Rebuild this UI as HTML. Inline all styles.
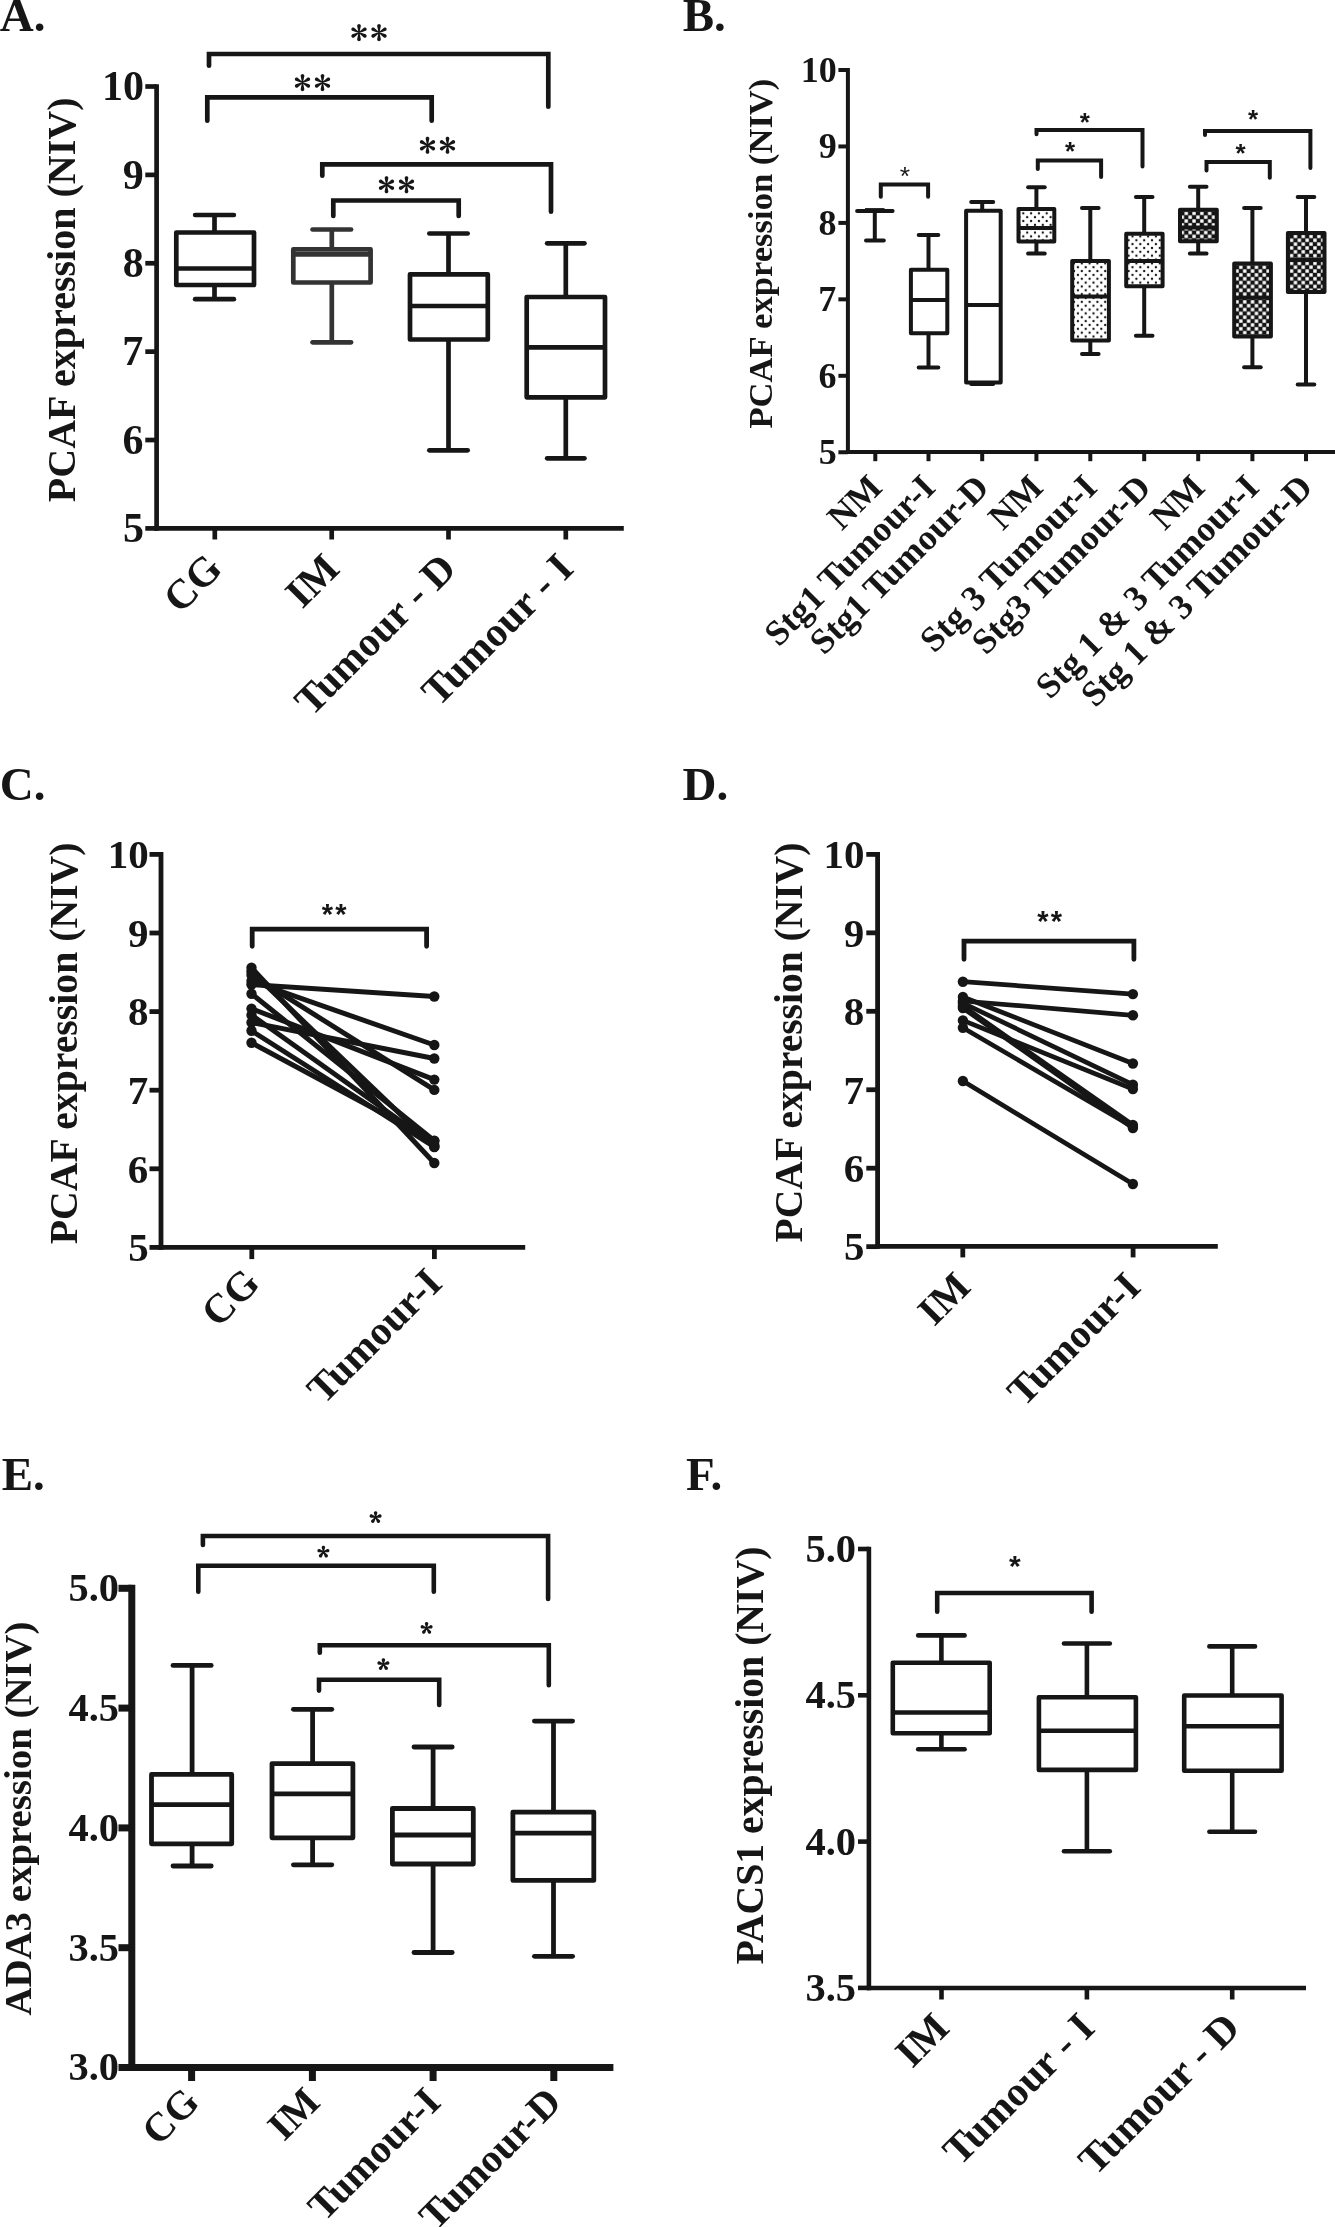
<!DOCTYPE html>
<html><head><meta charset="utf-8"><style>
html,body{margin:0;padding:0;background:#fff;}
body{width:1335px;height:2227px;overflow:hidden;font-family:"Liberation Serif", serif;}
svg{display:block;will-change:transform;}
</style></head><body>
<svg width="1335" height="2227" viewBox="0 0 1335 2227">
<defs><pattern id="dots" patternUnits="userSpaceOnUse" width="7.8" height="7.7" x="1019.4" y="209.45"><circle cx="3.9" cy="3.85" r="1.15" fill="#111"/><circle cx="7.8" cy="7.7" r="1.15" fill="#111"/><circle cx="0" cy="7.7" r="1.15" fill="#111"/><circle cx="7.8" cy="0" r="1.15" fill="#111"/><circle cx="0" cy="0" r="1.15" fill="#111"/></pattern><pattern id="check" patternUnits="userSpaceOnUse" width="7.8" height="7.7" x="1184.3" y="211.4"><rect x="0" y="0" width="7.8" height="7.7" fill="#141414"/><rect x="0.25" y="0.25" width="3.4" height="3.35" fill="#fff"/><rect x="4.15" y="4.1" width="3.4" height="3.35" fill="#fff"/></pattern></defs>
<rect x="0" y="0" width="1335" height="2227" fill="#fff"/>
<text x="-0.17" y="30.54" font-size="47" text-anchor="start" font-family='"Liberation Serif", serif' font-weight="bold" fill="#161616">A.</text>
<line x1="156.6" y1="84.15" x2="156.6" y2="530.75" stroke="#161616" stroke-width="4.7" stroke-linecap="butt"/>
<line x1="145.3" y1="86.5" x2="156.6" y2="86.5" stroke="#161616" stroke-width="4.7" stroke-linecap="butt"/>
<line x1="145.3" y1="174.88" x2="156.6" y2="174.88" stroke="#161616" stroke-width="4.7" stroke-linecap="butt"/>
<line x1="145.3" y1="263.26" x2="156.6" y2="263.26" stroke="#161616" stroke-width="4.7" stroke-linecap="butt"/>
<line x1="145.3" y1="351.64" x2="156.6" y2="351.64" stroke="#161616" stroke-width="4.7" stroke-linecap="butt"/>
<line x1="145.3" y1="440.02" x2="156.6" y2="440.02" stroke="#161616" stroke-width="4.7" stroke-linecap="butt"/>
<line x1="145.3" y1="528.4" x2="156.6" y2="528.4" stroke="#161616" stroke-width="4.7" stroke-linecap="butt"/>
<line x1="154.3" y1="528.4" x2="623.8" y2="528.4" stroke="#161616" stroke-width="4.7" stroke-linecap="butt"/>
<line x1="214.8" y1="528.4" x2="214.8" y2="539.5" stroke="#161616" stroke-width="4.7" stroke-linecap="butt"/>
<line x1="331.7" y1="528.4" x2="331.7" y2="539.5" stroke="#161616" stroke-width="4.7" stroke-linecap="butt"/>
<line x1="448.5" y1="528.4" x2="448.5" y2="539.5" stroke="#161616" stroke-width="4.7" stroke-linecap="butt"/>
<line x1="565.8" y1="528.4" x2="565.8" y2="539.5" stroke="#161616" stroke-width="4.7" stroke-linecap="butt"/>
<text x="143.88" y="100.24" font-size="42" text-anchor="end" font-family='"Liberation Serif", serif' font-weight="bold" fill="#161616">10</text>
<text x="143.77" y="188.57" font-size="42" text-anchor="end" font-family='"Liberation Serif", serif' font-weight="bold" fill="#161616">9</text>
<text x="143.67" y="277" font-size="42" text-anchor="end" font-family='"Liberation Serif", serif' font-weight="bold" fill="#161616">8</text>
<text x="143.35" y="365.38" font-size="42" text-anchor="end" font-family='"Liberation Serif", serif' font-weight="bold" fill="#161616">7</text>
<text x="143.56" y="453.71" font-size="42" text-anchor="end" font-family='"Liberation Serif", serif' font-weight="bold" fill="#161616">6</text>
<text x="143.88" y="541.93" font-size="42" text-anchor="end" font-family='"Liberation Serif", serif' font-weight="bold" fill="#161616">5</text>
<text x="75.27" y="502.2" font-size="40.04" text-anchor="start" font-family='"Liberation Serif", serif' font-weight="bold" fill="#161616" transform="rotate(-90 75.27 502.2)">PCAF expression (NIV)</text>
<text x="224.2" y="570.7" font-size="41.5" text-anchor="end" font-family='"Liberation Serif", serif' font-weight="bold" fill="#161616" transform="rotate(-45 224.2 570.7)">CG</text>
<text x="341.4" y="570.7" font-size="41.5" text-anchor="end" font-family='"Liberation Serif", serif' font-weight="bold" fill="#161616" transform="rotate(-45 341.4 570.7)">IM</text>
<text x="458.2" y="570.7" font-size="41.5" text-anchor="end" font-family='"Liberation Serif", serif' font-weight="bold" fill="#161616" transform="rotate(-45 458.2 570.7)">Tumour - D</text>
<text x="575.5" y="570.7" font-size="41.5" text-anchor="end" font-family='"Liberation Serif", serif' font-weight="bold" fill="#161616" transform="rotate(-45 575.5 570.7)">Tumour - I</text>
<line x1="214.5" y1="215" x2="214.5" y2="232.5" stroke="#161616" stroke-width="4.7" stroke-linecap="butt"/>
<line x1="214.5" y1="285" x2="214.5" y2="299.2" stroke="#161616" stroke-width="4.7" stroke-linecap="butt"/>
<line x1="195.15" y1="215" x2="233.85" y2="215" stroke="#161616" stroke-width="4.7" stroke-linecap="round"/>
<line x1="195.15" y1="299.2" x2="233.85" y2="299.2" stroke="#161616" stroke-width="4.7" stroke-linecap="round"/>
<rect x="176.3" y="232.5" width="77.7" height="52.5" stroke="#161616" stroke-width="4.7" fill="#fff" stroke-linejoin="round"/>
<line x1="176.3" y1="268.5" x2="254" y2="268.5" stroke="#161616" stroke-width="4.7" stroke-linecap="butt"/>
<line x1="331.8" y1="229.5" x2="331.8" y2="249.4" stroke="#333" stroke-width="4.7" stroke-linecap="butt"/>
<line x1="331.8" y1="282.5" x2="331.8" y2="342.3" stroke="#333" stroke-width="4.7" stroke-linecap="butt"/>
<line x1="312.55" y1="229.5" x2="351.05" y2="229.5" stroke="#333" stroke-width="4.7" stroke-linecap="round"/>
<line x1="312.55" y1="342.3" x2="351.05" y2="342.3" stroke="#333" stroke-width="4.7" stroke-linecap="round"/>
<rect x="293.3" y="249.4" width="77.3" height="33.1" stroke="#333" stroke-width="4.7" fill="#fff" stroke-linejoin="round"/>
<line x1="293.3" y1="254.4" x2="370.6" y2="254.4" stroke="#333" stroke-width="4.7" stroke-linecap="butt"/>
<line x1="448.5" y1="233.5" x2="448.5" y2="274.3" stroke="#161616" stroke-width="4.7" stroke-linecap="butt"/>
<line x1="448.5" y1="339.5" x2="448.5" y2="450.3" stroke="#161616" stroke-width="4.7" stroke-linecap="butt"/>
<line x1="429.35" y1="233.5" x2="467.65" y2="233.5" stroke="#161616" stroke-width="4.7" stroke-linecap="round"/>
<line x1="429.35" y1="450.3" x2="467.65" y2="450.3" stroke="#161616" stroke-width="4.7" stroke-linecap="round"/>
<rect x="410" y="274.3" width="77.8" height="65.2" stroke="#161616" stroke-width="4.7" fill="#fff" stroke-linejoin="round"/>
<line x1="410" y1="306" x2="487.8" y2="306" stroke="#161616" stroke-width="4.7" stroke-linecap="butt"/>
<line x1="565.8" y1="243.3" x2="565.8" y2="297" stroke="#161616" stroke-width="4.7" stroke-linecap="butt"/>
<line x1="565.8" y1="397.3" x2="565.8" y2="458.3" stroke="#161616" stroke-width="4.7" stroke-linecap="butt"/>
<line x1="547.15" y1="243.3" x2="584.45" y2="243.3" stroke="#161616" stroke-width="4.7" stroke-linecap="round"/>
<line x1="547.15" y1="458.3" x2="584.45" y2="458.3" stroke="#161616" stroke-width="4.7" stroke-linecap="round"/>
<rect x="526.7" y="297" width="78.3" height="100.3" stroke="#161616" stroke-width="4.7" fill="#fff" stroke-linejoin="round"/>
<line x1="526.7" y1="347.3" x2="605" y2="347.3" stroke="#161616" stroke-width="4.7" stroke-linecap="butt"/>
<path d="M209 65.7 L209 54 L548.3 54 L548.3 106.7" stroke="#161616" stroke-width="4.7" stroke-linecap="round" stroke-linejoin="miter" fill="none"/>
<path d="M207.3 120.7 L207.3 97.3 L431.7 97.3 L431.7 120.7" stroke="#161616" stroke-width="4.7" stroke-linecap="round" stroke-linejoin="miter" fill="none"/>
<path d="M322.3 175.7 L322.3 164.3 L551 164.3 L551 211.7" stroke="#161616" stroke-width="4.7" stroke-linecap="round" stroke-linejoin="miter" fill="none"/>
<path d="M333.3 216 L333.3 200.5 L458.7 200.5 L458.7 216" stroke="#161616" stroke-width="4.7" stroke-linecap="round" stroke-linejoin="miter" fill="none"/>
<path d="M359.5 32.6 L360.85 25.9 L360.76 25.33 L360.5 24.81 L360.09 24.4 L359.57 24.14 L359 24.05 L358.43 24.14 L357.91 24.4 L357.5 24.81 L357.24 25.33 L357.15 25.9 L358.5 32.6ZM359.25 32.17 L354.12 27.65 L353.58 27.44 L353 27.41 L352.45 27.56 L351.96 27.88 L351.6 28.32 L351.39 28.87 L351.36 29.44 L351.51 30 L351.82 30.49 L352.27 30.85 L358.75 33.03ZM358.75 32.17 L352.27 34.35 L351.82 34.71 L351.51 35.2 L351.36 35.76 L351.39 36.33 L351.6 36.88 L351.96 37.32 L352.45 37.64 L353 37.79 L353.58 37.76 L354.12 37.55 L359.25 33.03ZM358.5 32.6 L357.15 39.3 L357.24 39.87 L357.5 40.39 L357.91 40.8 L358.43 41.06 L359 41.15 L359.57 41.06 L360.09 40.8 L360.5 40.39 L360.76 39.87 L360.85 39.3 L359.5 32.6ZM358.75 33.03 L363.88 37.55 L364.42 37.76 L365 37.79 L365.55 37.64 L366.04 37.32 L366.4 36.88 L366.61 36.33 L366.64 35.76 L366.49 35.2 L366.18 34.71 L365.73 34.35 L359.25 32.17ZM359.25 33.03 L365.73 30.85 L366.18 30.49 L366.49 30 L366.64 29.44 L366.61 28.87 L366.4 28.32 L366.04 27.88 L365.55 27.56 L365 27.41 L364.42 27.44 L363.88 27.65 L358.75 32.17Z" fill="#161616"/>
<path d="M379.5 32.6 L380.85 25.9 L380.76 25.33 L380.5 24.81 L380.09 24.4 L379.57 24.14 L379 24.05 L378.43 24.14 L377.91 24.4 L377.5 24.81 L377.24 25.33 L377.15 25.9 L378.5 32.6ZM379.25 32.17 L374.12 27.65 L373.58 27.44 L373 27.41 L372.45 27.56 L371.96 27.88 L371.6 28.32 L371.39 28.87 L371.36 29.44 L371.51 30 L371.82 30.49 L372.27 30.85 L378.75 33.03ZM378.75 32.17 L372.27 34.35 L371.82 34.71 L371.51 35.2 L371.36 35.76 L371.39 36.33 L371.6 36.88 L371.96 37.32 L372.45 37.64 L373 37.79 L373.58 37.76 L374.12 37.55 L379.25 33.03ZM378.5 32.6 L377.15 39.3 L377.24 39.87 L377.5 40.39 L377.91 40.8 L378.43 41.06 L379 41.15 L379.57 41.06 L380.09 40.8 L380.5 40.39 L380.76 39.87 L380.85 39.3 L379.5 32.6ZM378.75 33.03 L383.88 37.55 L384.42 37.76 L385 37.79 L385.55 37.64 L386.04 37.32 L386.4 36.88 L386.61 36.33 L386.64 35.76 L386.49 35.2 L386.18 34.71 L385.73 34.35 L379.25 32.17ZM379.25 33.03 L385.73 30.85 L386.18 30.49 L386.49 30 L386.64 29.44 L386.61 28.87 L386.4 28.32 L386.04 27.88 L385.55 27.56 L385 27.41 L384.42 27.44 L383.88 27.65 L378.75 32.17Z" fill="#161616"/>
<path d="M303 82.6 L304.35 75.9 L304.26 75.33 L304 74.81 L303.59 74.4 L303.07 74.14 L302.5 74.05 L301.93 74.14 L301.41 74.4 L301 74.81 L300.74 75.33 L300.65 75.9 L302 82.6ZM302.75 82.17 L297.62 77.65 L297.08 77.44 L296.5 77.41 L295.95 77.56 L295.46 77.88 L295.1 78.33 L294.89 78.87 L294.86 79.44 L295.01 80 L295.32 80.49 L295.77 80.85 L302.25 83.03ZM302.25 82.17 L295.77 84.35 L295.32 84.71 L295.01 85.2 L294.86 85.76 L294.89 86.33 L295.1 86.87 L295.46 87.32 L295.95 87.64 L296.5 87.79 L297.08 87.76 L297.62 87.55 L302.75 83.03ZM302 82.6 L300.65 89.3 L300.74 89.87 L301 90.39 L301.41 90.8 L301.93 91.06 L302.5 91.15 L303.07 91.06 L303.59 90.8 L304 90.39 L304.26 89.87 L304.35 89.3 L303 82.6ZM302.25 83.03 L307.38 87.55 L307.92 87.76 L308.5 87.79 L309.05 87.64 L309.54 87.32 L309.9 86.88 L310.11 86.33 L310.14 85.76 L309.99 85.2 L309.68 84.71 L309.23 84.35 L302.75 82.17ZM302.75 83.03 L309.23 80.85 L309.68 80.49 L309.99 80 L310.14 79.44 L310.11 78.87 L309.9 78.33 L309.54 77.88 L309.05 77.56 L308.5 77.41 L307.92 77.44 L307.38 77.65 L302.25 82.17Z" fill="#161616"/>
<path d="M323 82.6 L324.35 75.9 L324.26 75.33 L324 74.81 L323.59 74.4 L323.07 74.14 L322.5 74.05 L321.93 74.14 L321.41 74.4 L321 74.81 L320.74 75.33 L320.65 75.9 L322 82.6ZM322.75 82.17 L317.62 77.65 L317.08 77.44 L316.5 77.41 L315.95 77.56 L315.46 77.88 L315.1 78.33 L314.89 78.87 L314.86 79.44 L315.01 80 L315.32 80.49 L315.77 80.85 L322.25 83.03ZM322.25 82.17 L315.77 84.35 L315.32 84.71 L315.01 85.2 L314.86 85.76 L314.89 86.33 L315.1 86.87 L315.46 87.32 L315.95 87.64 L316.5 87.79 L317.08 87.76 L317.62 87.55 L322.75 83.03ZM322 82.6 L320.65 89.3 L320.74 89.87 L321 90.39 L321.41 90.8 L321.93 91.06 L322.5 91.15 L323.07 91.06 L323.59 90.8 L324 90.39 L324.26 89.87 L324.35 89.3 L323 82.6ZM322.25 83.03 L327.38 87.55 L327.92 87.76 L328.5 87.79 L329.05 87.64 L329.54 87.32 L329.9 86.88 L330.11 86.33 L330.14 85.76 L329.99 85.2 L329.68 84.71 L329.23 84.35 L322.75 82.17ZM322.75 83.03 L329.23 80.85 L329.68 80.49 L329.99 80 L330.14 79.44 L330.11 78.87 L329.9 78.33 L329.54 77.88 L329.05 77.56 L328.5 77.41 L327.92 77.44 L327.38 77.65 L322.25 82.17Z" fill="#161616"/>
<path d="M428 145.3 L429.35 138.6 L429.26 138.03 L429 137.51 L428.59 137.1 L428.07 136.84 L427.5 136.75 L426.93 136.84 L426.41 137.1 L426 137.51 L425.74 138.03 L425.65 138.6 L427 145.3ZM427.75 144.87 L422.62 140.35 L422.08 140.14 L421.5 140.11 L420.95 140.26 L420.46 140.58 L420.1 141.03 L419.89 141.57 L419.86 142.14 L420.01 142.7 L420.32 143.19 L420.77 143.55 L427.25 145.73ZM427.25 144.87 L420.77 147.05 L420.32 147.41 L420.01 147.9 L419.86 148.46 L419.89 149.03 L420.1 149.58 L420.46 150.02 L420.95 150.34 L421.5 150.49 L422.08 150.46 L422.62 150.25 L427.75 145.73ZM427 145.3 L425.65 152 L425.74 152.57 L426 153.09 L426.41 153.5 L426.93 153.76 L427.5 153.85 L428.07 153.76 L428.59 153.5 L429 153.09 L429.26 152.57 L429.35 152 L428 145.3ZM427.25 145.73 L432.38 150.25 L432.92 150.46 L433.5 150.49 L434.05 150.34 L434.54 150.02 L434.9 149.58 L435.11 149.03 L435.14 148.46 L434.99 147.9 L434.68 147.41 L434.23 147.05 L427.75 144.87ZM427.75 145.73 L434.23 143.55 L434.68 143.19 L434.99 142.7 L435.14 142.14 L435.11 141.57 L434.9 141.03 L434.54 140.58 L434.05 140.26 L433.5 140.11 L432.92 140.14 L432.38 140.35 L427.25 144.87Z" fill="#161616"/>
<path d="M448 145.3 L449.35 138.6 L449.26 138.03 L449 137.51 L448.59 137.1 L448.07 136.84 L447.5 136.75 L446.93 136.84 L446.41 137.1 L446 137.51 L445.74 138.03 L445.65 138.6 L447 145.3ZM447.75 144.87 L442.62 140.35 L442.08 140.14 L441.5 140.11 L440.95 140.26 L440.46 140.58 L440.1 141.03 L439.89 141.57 L439.86 142.14 L440.01 142.7 L440.32 143.19 L440.77 143.55 L447.25 145.73ZM447.25 144.87 L440.77 147.05 L440.32 147.41 L440.01 147.9 L439.86 148.46 L439.89 149.03 L440.1 149.58 L440.46 150.02 L440.95 150.34 L441.5 150.49 L442.08 150.46 L442.62 150.25 L447.75 145.73ZM447 145.3 L445.65 152 L445.74 152.57 L446 153.09 L446.41 153.5 L446.93 153.76 L447.5 153.85 L448.07 153.76 L448.59 153.5 L449 153.09 L449.26 152.57 L449.35 152 L448 145.3ZM447.25 145.73 L452.38 150.25 L452.92 150.46 L453.5 150.49 L454.05 150.34 L454.54 150.02 L454.9 149.58 L455.11 149.03 L455.14 148.46 L454.99 147.9 L454.68 147.41 L454.23 147.05 L447.75 144.87ZM447.75 145.73 L454.23 143.55 L454.68 143.19 L454.99 142.7 L455.14 142.14 L455.11 141.57 L454.9 141.03 L454.54 140.58 L454.05 140.26 L453.5 140.11 L452.92 140.14 L452.38 140.35 L447.25 144.87Z" fill="#161616"/>
<path d="M387 184.7 L388.35 178 L388.26 177.43 L388 176.91 L387.59 176.5 L387.07 176.24 L386.5 176.15 L385.93 176.24 L385.41 176.5 L385 176.91 L384.74 177.43 L384.65 178 L386 184.7ZM386.75 184.27 L381.62 179.75 L381.08 179.54 L380.5 179.51 L379.95 179.66 L379.46 179.98 L379.1 180.42 L378.89 180.97 L378.86 181.54 L379.01 182.1 L379.32 182.59 L379.77 182.95 L386.25 185.13ZM386.25 184.27 L379.77 186.45 L379.32 186.81 L379.01 187.3 L378.86 187.86 L378.89 188.43 L379.1 188.97 L379.46 189.42 L379.95 189.74 L380.5 189.89 L381.08 189.86 L381.62 189.65 L386.75 185.13ZM386 184.7 L384.65 191.4 L384.74 191.97 L385 192.49 L385.41 192.9 L385.93 193.16 L386.5 193.25 L387.07 193.16 L387.59 192.9 L388 192.49 L388.26 191.97 L388.35 191.4 L387 184.7ZM386.25 185.13 L391.38 189.65 L391.92 189.86 L392.5 189.89 L393.05 189.74 L393.54 189.42 L393.9 188.97 L394.11 188.43 L394.14 187.86 L393.99 187.3 L393.68 186.81 L393.23 186.45 L386.75 184.27ZM386.75 185.13 L393.23 182.95 L393.68 182.59 L393.99 182.1 L394.14 181.54 L394.11 180.97 L393.9 180.42 L393.54 179.98 L393.05 179.66 L392.5 179.51 L391.92 179.54 L391.38 179.75 L386.25 184.27Z" fill="#161616"/>
<path d="M407 184.7 L408.35 178 L408.26 177.43 L408 176.91 L407.59 176.5 L407.07 176.24 L406.5 176.15 L405.93 176.24 L405.41 176.5 L405 176.91 L404.74 177.43 L404.65 178 L406 184.7ZM406.75 184.27 L401.62 179.75 L401.08 179.54 L400.5 179.51 L399.95 179.66 L399.46 179.98 L399.1 180.42 L398.89 180.97 L398.86 181.54 L399.01 182.1 L399.32 182.59 L399.77 182.95 L406.25 185.13ZM406.25 184.27 L399.77 186.45 L399.32 186.81 L399.01 187.3 L398.86 187.86 L398.89 188.43 L399.1 188.97 L399.46 189.42 L399.95 189.74 L400.5 189.89 L401.08 189.86 L401.62 189.65 L406.75 185.13ZM406 184.7 L404.65 191.4 L404.74 191.97 L405 192.49 L405.41 192.9 L405.93 193.16 L406.5 193.25 L407.07 193.16 L407.59 192.9 L408 192.49 L408.26 191.97 L408.35 191.4 L407 184.7ZM406.25 185.13 L411.38 189.65 L411.92 189.86 L412.5 189.89 L413.05 189.74 L413.54 189.42 L413.9 188.97 L414.11 188.43 L414.14 187.86 L413.99 187.3 L413.68 186.81 L413.23 186.45 L406.75 184.27ZM406.75 185.13 L413.23 182.95 L413.68 182.59 L413.99 182.1 L414.14 181.54 L414.11 180.97 L413.9 180.42 L413.54 179.98 L413.05 179.66 L412.5 179.51 L411.92 179.54 L411.38 179.75 L406.25 184.27Z" fill="#161616"/>
<text x="682.68" y="30.54" font-size="47" text-anchor="start" font-family='"Liberation Serif", serif' font-weight="bold" fill="#161616">B.</text>
<line x1="847.9" y1="68" x2="847.9" y2="454" stroke="#161616" stroke-width="4" stroke-linecap="butt"/>
<line x1="838.4" y1="70" x2="847.9" y2="70" stroke="#161616" stroke-width="4" stroke-linecap="butt"/>
<line x1="838.4" y1="146.45" x2="847.9" y2="146.45" stroke="#161616" stroke-width="4" stroke-linecap="butt"/>
<line x1="838.4" y1="222.9" x2="847.9" y2="222.9" stroke="#161616" stroke-width="4" stroke-linecap="butt"/>
<line x1="838.4" y1="299.35" x2="847.9" y2="299.35" stroke="#161616" stroke-width="4" stroke-linecap="butt"/>
<line x1="838.4" y1="375.8" x2="847.9" y2="375.8" stroke="#161616" stroke-width="4" stroke-linecap="butt"/>
<line x1="838.4" y1="452.25" x2="847.9" y2="452.25" stroke="#161616" stroke-width="4" stroke-linecap="butt"/>
<line x1="846" y1="452" x2="1335" y2="452" stroke="#161616" stroke-width="4" stroke-linecap="butt"/>
<line x1="875.3" y1="452" x2="875.3" y2="461.2" stroke="#161616" stroke-width="4" stroke-linecap="butt"/>
<line x1="928.5" y1="452" x2="928.5" y2="461.2" stroke="#161616" stroke-width="4" stroke-linecap="butt"/>
<line x1="982.2" y1="452" x2="982.2" y2="461.2" stroke="#161616" stroke-width="4" stroke-linecap="butt"/>
<line x1="1036.4" y1="452" x2="1036.4" y2="461.2" stroke="#161616" stroke-width="4" stroke-linecap="butt"/>
<line x1="1090.3" y1="452" x2="1090.3" y2="461.2" stroke="#161616" stroke-width="4" stroke-linecap="butt"/>
<line x1="1144.2" y1="452" x2="1144.2" y2="461.2" stroke="#161616" stroke-width="4" stroke-linecap="butt"/>
<line x1="1198.2" y1="452" x2="1198.2" y2="461.2" stroke="#161616" stroke-width="4" stroke-linecap="butt"/>
<line x1="1252.4" y1="452" x2="1252.4" y2="461.2" stroke="#161616" stroke-width="4" stroke-linecap="butt"/>
<line x1="1306" y1="452" x2="1306" y2="461.2" stroke="#161616" stroke-width="4" stroke-linecap="butt"/>
<text x="836.74" y="81.78" font-size="36" text-anchor="end" font-family='"Liberation Serif", serif' font-weight="bold" fill="#161616">10</text>
<text x="836.65" y="158.19" font-size="36" text-anchor="end" font-family='"Liberation Serif", serif' font-weight="bold" fill="#161616">9</text>
<text x="836.56" y="234.68" font-size="36" text-anchor="end" font-family='"Liberation Serif", serif' font-weight="bold" fill="#161616">8</text>
<text x="836.29" y="311.13" font-size="36" text-anchor="end" font-family='"Liberation Serif", serif' font-weight="bold" fill="#161616">7</text>
<text x="836.47" y="387.54" font-size="36" text-anchor="end" font-family='"Liberation Serif", serif' font-weight="bold" fill="#161616">6</text>
<text x="836.74" y="463.85" font-size="36" text-anchor="end" font-family='"Liberation Serif", serif' font-weight="bold" fill="#161616">5</text>
<text x="772.21" y="428.53" font-size="34.62" text-anchor="start" font-family='"Liberation Serif", serif' font-weight="bold" fill="#161616" transform="rotate(-90 772.21 428.53)">PCAF expression (NIV)</text>
<text x="883.8" y="489.4" font-size="35.7" text-anchor="end" font-family='"Liberation Serif", serif' font-weight="bold" fill="#161616" transform="rotate(-45 883.8 489.4)">NM</text>
<text x="937" y="489.4" font-size="35.7" text-anchor="end" font-family='"Liberation Serif", serif' font-weight="bold" fill="#161616" transform="rotate(-45 937 489.4)">Stg1 Tumour-I</text>
<text x="990.7" y="489.4" font-size="35.7" text-anchor="end" font-family='"Liberation Serif", serif' font-weight="bold" fill="#161616" transform="rotate(-45 990.7 489.4)">Stg1 Tumour-D</text>
<text x="1044.9" y="489.4" font-size="35.7" text-anchor="end" font-family='"Liberation Serif", serif' font-weight="bold" fill="#161616" transform="rotate(-45 1044.9 489.4)">NM</text>
<text x="1098.8" y="489.4" font-size="35.7" text-anchor="end" font-family='"Liberation Serif", serif' font-weight="bold" fill="#161616" transform="rotate(-45 1098.8 489.4)">Stg 3 Tumour-I</text>
<text x="1152.7" y="489.4" font-size="35.7" text-anchor="end" font-family='"Liberation Serif", serif' font-weight="bold" fill="#161616" transform="rotate(-45 1152.7 489.4)">Stg3 Tumour-D</text>
<text x="1206.7" y="489.4" font-size="35.7" text-anchor="end" font-family='"Liberation Serif", serif' font-weight="bold" fill="#161616" transform="rotate(-45 1206.7 489.4)">NM</text>
<text x="1260.9" y="489.4" font-size="35.7" text-anchor="end" font-family='"Liberation Serif", serif' font-weight="bold" fill="#161616" transform="rotate(-45 1260.9 489.4)">Stg 1 &amp; 3 Tumour-I</text>
<text x="1314.5" y="489.4" font-size="35.7" text-anchor="end" font-family='"Liberation Serif", serif' font-weight="bold" fill="#161616" transform="rotate(-45 1314.5 489.4)">Stg 1 &amp; 3 Tumour-D</text>
<line x1="874.8" y1="211" x2="874.8" y2="240.6" stroke="#161616" stroke-width="4" stroke-linecap="butt"/>
<line x1="857.1" y1="211" x2="892.6" y2="211" stroke="#161616" stroke-width="4" stroke-linecap="round"/>
<line x1="865" y1="209.9" x2="884.5" y2="209.9" stroke="#161616" stroke-width="3.6" stroke-linecap="butt"/>
<line x1="866" y1="240.6" x2="883.8" y2="240.6" stroke="#161616" stroke-width="4" stroke-linecap="round"/>
<line x1="928.5" y1="235.1" x2="928.5" y2="269.8" stroke="#161616" stroke-width="4" stroke-linecap="butt"/>
<line x1="928.5" y1="333.2" x2="928.5" y2="367.6" stroke="#161616" stroke-width="4" stroke-linecap="butt"/>
<line x1="918.7" y1="235.1" x2="938.3" y2="235.1" stroke="#161616" stroke-width="4" stroke-linecap="round"/>
<line x1="918.7" y1="367.6" x2="938.3" y2="367.6" stroke="#161616" stroke-width="4" stroke-linecap="round"/>
<rect x="910.9" y="269.8" width="36.4" height="63.4" stroke="#161616" stroke-width="4" fill="#fff" stroke-linejoin="round"/>
<line x1="910.9" y1="299.9" x2="947.3" y2="299.9" stroke="#161616" stroke-width="4" stroke-linecap="butt"/>
<line x1="982.2" y1="202" x2="982.2" y2="210.8" stroke="#161616" stroke-width="4" stroke-linecap="butt"/>
<line x1="982.2" y1="382.5" x2="982.2" y2="384" stroke="#161616" stroke-width="4" stroke-linecap="butt"/>
<line x1="971.2" y1="202" x2="993.2" y2="202" stroke="#161616" stroke-width="4" stroke-linecap="round"/>
<line x1="971.2" y1="384" x2="993.2" y2="384" stroke="#161616" stroke-width="4" stroke-linecap="round"/>
<rect x="966.1" y="210.8" width="34.6" height="171.7" stroke="#161616" stroke-width="4" fill="#fff" stroke-linejoin="round"/>
<line x1="966.1" y1="304.9" x2="1000.7" y2="304.9" stroke="#161616" stroke-width="4" stroke-linecap="butt"/>
<line x1="1036.4" y1="187.2" x2="1036.4" y2="209" stroke="#161616" stroke-width="4" stroke-linecap="butt"/>
<line x1="1036.4" y1="241.5" x2="1036.4" y2="253.6" stroke="#161616" stroke-width="4" stroke-linecap="butt"/>
<line x1="1028.1" y1="187.2" x2="1044.7" y2="187.2" stroke="#161616" stroke-width="4" stroke-linecap="round"/>
<line x1="1028.1" y1="253.6" x2="1044.7" y2="253.6" stroke="#161616" stroke-width="4" stroke-linecap="round"/>
<rect x="1018.5" y="209" width="35.8" height="32.5" stroke="#161616" stroke-width="4" fill="url(#dots)" stroke-linejoin="round"/>
<line x1="1018.5" y1="228" x2="1054.3" y2="228" stroke="#161616" stroke-width="4" stroke-linecap="butt"/>
<line x1="1090.3" y1="207.9" x2="1090.3" y2="260.9" stroke="#161616" stroke-width="4" stroke-linecap="butt"/>
<line x1="1090.3" y1="340.5" x2="1090.3" y2="353.9" stroke="#161616" stroke-width="4" stroke-linecap="butt"/>
<line x1="1082" y1="207.9" x2="1098.6" y2="207.9" stroke="#161616" stroke-width="4" stroke-linecap="round"/>
<line x1="1082" y1="353.9" x2="1098.6" y2="353.9" stroke="#161616" stroke-width="4" stroke-linecap="round"/>
<rect x="1072.2" y="260.9" width="36.7" height="79.6" stroke="#161616" stroke-width="4" fill="url(#dots)" stroke-linejoin="round"/>
<line x1="1072.2" y1="296.5" x2="1108.9" y2="296.5" stroke="#161616" stroke-width="4" stroke-linecap="butt"/>
<line x1="1144.2" y1="197" x2="1144.2" y2="233.7" stroke="#161616" stroke-width="4" stroke-linecap="butt"/>
<line x1="1144.2" y1="286.2" x2="1144.2" y2="335.8" stroke="#161616" stroke-width="4" stroke-linecap="butt"/>
<line x1="1135.9" y1="197" x2="1152.5" y2="197" stroke="#161616" stroke-width="4" stroke-linecap="round"/>
<line x1="1135.9" y1="335.8" x2="1152.5" y2="335.8" stroke="#161616" stroke-width="4" stroke-linecap="round"/>
<rect x="1126.2" y="233.7" width="36.4" height="52.5" stroke="#161616" stroke-width="4" fill="url(#dots)" stroke-linejoin="round"/>
<line x1="1126.2" y1="260.9" x2="1162.6" y2="260.9" stroke="#161616" stroke-width="4" stroke-linecap="butt"/>
<line x1="1198.2" y1="186.7" x2="1198.2" y2="209.7" stroke="#161616" stroke-width="4" stroke-linecap="butt"/>
<line x1="1198.2" y1="241.3" x2="1198.2" y2="253.6" stroke="#161616" stroke-width="4" stroke-linecap="butt"/>
<line x1="1189.9" y1="186.7" x2="1206.5" y2="186.7" stroke="#161616" stroke-width="4" stroke-linecap="round"/>
<line x1="1189.9" y1="253.6" x2="1206.5" y2="253.6" stroke="#161616" stroke-width="4" stroke-linecap="round"/>
<rect x="1180" y="209.7" width="36.8" height="31.6" stroke="#161616" stroke-width="4" fill="url(#check)" stroke-linejoin="round"/>
<line x1="1180" y1="227.4" x2="1216.8" y2="227.4" stroke="#161616" stroke-width="4" stroke-linecap="butt"/>
<line x1="1252.4" y1="207.9" x2="1252.4" y2="263.5" stroke="#161616" stroke-width="4" stroke-linecap="butt"/>
<line x1="1252.4" y1="336.6" x2="1252.4" y2="367.3" stroke="#161616" stroke-width="4" stroke-linecap="butt"/>
<line x1="1244.1" y1="207.9" x2="1260.7" y2="207.9" stroke="#161616" stroke-width="4" stroke-linecap="round"/>
<line x1="1244.1" y1="367.3" x2="1260.7" y2="367.3" stroke="#161616" stroke-width="4" stroke-linecap="round"/>
<rect x="1234.2" y="263.5" width="36.7" height="73.1" stroke="#161616" stroke-width="4" fill="url(#check)" stroke-linejoin="round"/>
<line x1="1234.2" y1="297.8" x2="1270.9" y2="297.8" stroke="#161616" stroke-width="4" stroke-linecap="butt"/>
<line x1="1306" y1="197" x2="1306" y2="233" stroke="#161616" stroke-width="4" stroke-linecap="butt"/>
<line x1="1306" y1="291.9" x2="1306" y2="384.4" stroke="#161616" stroke-width="4" stroke-linecap="butt"/>
<line x1="1297.7" y1="197" x2="1314.3" y2="197" stroke="#161616" stroke-width="4" stroke-linecap="round"/>
<line x1="1297.7" y1="384.4" x2="1314.3" y2="384.4" stroke="#161616" stroke-width="4" stroke-linecap="round"/>
<rect x="1287.9" y="233" width="36.6" height="58.9" stroke="#161616" stroke-width="4" fill="url(#check)" stroke-linejoin="round"/>
<line x1="1287.9" y1="260.1" x2="1324.5" y2="260.1" stroke="#161616" stroke-width="4" stroke-linecap="butt"/>
<path d="M880.8 196.8 L880.8 184.5 L928.1 184.5 L928.1 196.8" stroke="#161616" stroke-width="4" stroke-linecap="round" stroke-linejoin="miter" fill="none"/>
<path d="M1036.5 134.3 L1036.5 129.9 L1142.5 129.9 L1142.5 166.6" stroke="#161616" stroke-width="4" stroke-linecap="round" stroke-linejoin="miter" fill="none"/>
<path d="M1037.8 169.1 L1037.8 160.6 L1101.1 160.6 L1101.1 176.9" stroke="#161616" stroke-width="4" stroke-linecap="round" stroke-linejoin="miter" fill="none"/>
<path d="M1205 135 L1205 131 L1310.4 131 L1310.4 167.9" stroke="#161616" stroke-width="4" stroke-linecap="round" stroke-linejoin="miter" fill="none"/>
<path d="M1206.5 170.4 L1206.5 161.9 L1269.8 161.9 L1269.8 177.7" stroke="#161616" stroke-width="4" stroke-linecap="round" stroke-linejoin="miter" fill="none"/>
<text x="899.66" y="185.22" font-size="26.5" font-family='"Liberation Sans", sans-serif' font-weight="normal" fill="#161616">*</text>
<text x="1079.66" y="130.88" font-size="26" font-family='"Liberation Sans", sans-serif' font-weight="bold" fill="#161616">*</text>
<text x="1065.06" y="159.78" font-size="26" font-family='"Liberation Sans", sans-serif' font-weight="bold" fill="#161616">*</text>
<text x="1247.96" y="127.78" font-size="26" font-family='"Liberation Sans", sans-serif' font-weight="bold" fill="#161616">*</text>
<text x="1235.56" y="161.88" font-size="26" font-family='"Liberation Sans", sans-serif' font-weight="bold" fill="#161616">*</text>
<text x="-0.23" y="799.94" font-size="47" text-anchor="start" font-family='"Liberation Serif", serif' font-weight="bold" fill="#161616">C.</text>
<line x1="161" y1="852" x2="161" y2="1249.7" stroke="#161616" stroke-width="4.8" stroke-linecap="butt"/>
<line x1="149.5" y1="854.4" x2="161" y2="854.4" stroke="#161616" stroke-width="4.8" stroke-linecap="butt"/>
<line x1="149.5" y1="933" x2="161" y2="933" stroke="#161616" stroke-width="4.8" stroke-linecap="butt"/>
<line x1="149.5" y1="1011.6" x2="161" y2="1011.6" stroke="#161616" stroke-width="4.8" stroke-linecap="butt"/>
<line x1="149.5" y1="1090.2" x2="161" y2="1090.2" stroke="#161616" stroke-width="4.8" stroke-linecap="butt"/>
<line x1="149.5" y1="1168.8" x2="161" y2="1168.8" stroke="#161616" stroke-width="4.8" stroke-linecap="butt"/>
<line x1="149.5" y1="1247.4" x2="161" y2="1247.4" stroke="#161616" stroke-width="4.8" stroke-linecap="butt"/>
<line x1="158.6" y1="1247.3" x2="525.2" y2="1247.3" stroke="#161616" stroke-width="4.8" stroke-linecap="butt"/>
<line x1="251.8" y1="1247.3" x2="251.8" y2="1259.1" stroke="#161616" stroke-width="4.8" stroke-linecap="butt"/>
<line x1="434.4" y1="1247.3" x2="434.4" y2="1259.1" stroke="#161616" stroke-width="4.8" stroke-linecap="butt"/>
<text x="76.76" y="1244.19" font-size="39.74" text-anchor="start" font-family='"Liberation Serif", serif' font-weight="bold" fill="#161616" transform="rotate(-90 76.76 1244.19)">PCAF expression (NIV)</text>
<path d="M252.2 946.3 L252.2 929.2 L426.6 929.2 L426.6 946.3" stroke="#161616" stroke-width="4.8" stroke-linecap="round" stroke-linejoin="miter" fill="none"/>
<text x="321.87" y="923.79" font-size="29" font-family='"Liberation Sans", sans-serif' font-weight="bold" fill="#161616">*</text>
<text x="335.17" y="923.79" font-size="29" font-family='"Liberation Sans", sans-serif' font-weight="bold" fill="#161616">*</text>
<text x="148.64" y="868.22" font-size="41" text-anchor="end" font-family='"Liberation Serif", serif' font-weight="bold" fill="#161616">10</text>
<text x="148.54" y="946.77" font-size="41" text-anchor="end" font-family='"Liberation Serif", serif' font-weight="bold" fill="#161616">9</text>
<text x="148.44" y="1025.42" font-size="41" text-anchor="end" font-family='"Liberation Serif", serif' font-weight="bold" fill="#161616">8</text>
<text x="148.13" y="1104.02" font-size="41" text-anchor="end" font-family='"Liberation Serif", serif' font-weight="bold" fill="#161616">7</text>
<text x="148.33" y="1182.57" font-size="41" text-anchor="end" font-family='"Liberation Serif", serif' font-weight="bold" fill="#161616">6</text>
<text x="148.64" y="1261.01" font-size="41" text-anchor="end" font-family='"Liberation Serif", serif' font-weight="bold" fill="#161616">5</text>
<text x="261.5" y="1285.2" font-size="41" text-anchor="end" font-family='"Liberation Serif", serif' font-weight="bold" fill="#161616" transform="rotate(-45 261.5 1285.2)">CG</text>
<text x="444" y="1285.2" font-size="41" text-anchor="end" font-family='"Liberation Serif", serif' font-weight="bold" fill="#161616" transform="rotate(-45 444 1285.2)">Tumour-I</text>
<line x1="251.5" y1="984.5" x2="434.3" y2="996.5" stroke="#161616" stroke-width="5" stroke-linecap="butt"/>
<line x1="251.5" y1="981" x2="434.3" y2="1045" stroke="#161616" stroke-width="5" stroke-linecap="butt"/>
<line x1="251.5" y1="975" x2="434.3" y2="1089.9" stroke="#161616" stroke-width="5" stroke-linecap="butt"/>
<line x1="251.5" y1="1022.5" x2="434.3" y2="1058.5" stroke="#161616" stroke-width="5" stroke-linecap="butt"/>
<line x1="251.5" y1="1008.6" x2="434.3" y2="1079.6" stroke="#161616" stroke-width="5" stroke-linecap="butt"/>
<line x1="251.5" y1="967.8" x2="434.3" y2="1163" stroke="#161616" stroke-width="5" stroke-linecap="butt"/>
<line x1="251.5" y1="971.4" x2="434.3" y2="1146.9" stroke="#161616" stroke-width="5" stroke-linecap="butt"/>
<line x1="251.5" y1="993.7" x2="434.3" y2="1140.6" stroke="#161616" stroke-width="5" stroke-linecap="butt"/>
<line x1="251.5" y1="1015" x2="434.3" y2="1145" stroke="#161616" stroke-width="5" stroke-linecap="butt"/>
<line x1="251.5" y1="1030.8" x2="434.3" y2="1147" stroke="#161616" stroke-width="5" stroke-linecap="butt"/>
<line x1="251.5" y1="1042.8" x2="434.3" y2="1141" stroke="#161616" stroke-width="5" stroke-linecap="butt"/>
<circle cx="251.5" cy="984.5" r="5.2" fill="#161616"/>
<circle cx="434.3" cy="996.5" r="5.2" fill="#161616"/>
<circle cx="251.5" cy="981" r="5.2" fill="#161616"/>
<circle cx="434.3" cy="1045" r="5.2" fill="#161616"/>
<circle cx="251.5" cy="975" r="5.2" fill="#161616"/>
<circle cx="434.3" cy="1089.9" r="5.2" fill="#161616"/>
<circle cx="251.5" cy="1022.5" r="5.2" fill="#161616"/>
<circle cx="434.3" cy="1058.5" r="5.2" fill="#161616"/>
<circle cx="251.5" cy="1008.6" r="5.2" fill="#161616"/>
<circle cx="434.3" cy="1079.6" r="5.2" fill="#161616"/>
<circle cx="251.5" cy="967.8" r="5.2" fill="#161616"/>
<circle cx="434.3" cy="1163" r="5.2" fill="#161616"/>
<circle cx="251.5" cy="971.4" r="5.2" fill="#161616"/>
<circle cx="434.3" cy="1146.9" r="5.2" fill="#161616"/>
<circle cx="251.5" cy="993.7" r="5.2" fill="#161616"/>
<circle cx="434.3" cy="1140.6" r="5.2" fill="#161616"/>
<circle cx="251.5" cy="1015" r="5.2" fill="#161616"/>
<circle cx="434.3" cy="1145" r="5.2" fill="#161616"/>
<circle cx="251.5" cy="1030.8" r="5.2" fill="#161616"/>
<circle cx="434.3" cy="1147" r="5.2" fill="#161616"/>
<circle cx="251.5" cy="1042.8" r="5.2" fill="#161616"/>
<circle cx="434.3" cy="1141" r="5.2" fill="#161616"/>
<text x="682.58" y="799.94" font-size="47" text-anchor="start" font-family='"Liberation Serif", serif' font-weight="bold" fill="#161616">D.</text>
<line x1="877.6" y1="852" x2="877.6" y2="1248.7" stroke="#161616" stroke-width="4.8" stroke-linecap="butt"/>
<line x1="866.3" y1="854.4" x2="877.6" y2="854.4" stroke="#161616" stroke-width="4.8" stroke-linecap="butt"/>
<line x1="866.3" y1="932.85" x2="877.6" y2="932.85" stroke="#161616" stroke-width="4.8" stroke-linecap="butt"/>
<line x1="866.3" y1="1011.3" x2="877.6" y2="1011.3" stroke="#161616" stroke-width="4.8" stroke-linecap="butt"/>
<line x1="866.3" y1="1089.75" x2="877.6" y2="1089.75" stroke="#161616" stroke-width="4.8" stroke-linecap="butt"/>
<line x1="866.3" y1="1168.2" x2="877.6" y2="1168.2" stroke="#161616" stroke-width="4.8" stroke-linecap="butt"/>
<line x1="866.3" y1="1246.65" x2="877.6" y2="1246.65" stroke="#161616" stroke-width="4.8" stroke-linecap="butt"/>
<line x1="875.2" y1="1246.3" x2="1217.8" y2="1246.3" stroke="#161616" stroke-width="4.8" stroke-linecap="butt"/>
<line x1="962.8" y1="1246.3" x2="962.8" y2="1257.4" stroke="#161616" stroke-width="4.8" stroke-linecap="butt"/>
<line x1="1133.1" y1="1246.3" x2="1133.1" y2="1257.4" stroke="#161616" stroke-width="4.8" stroke-linecap="butt"/>
<text x="802.33" y="1242.38" font-size="39.56" text-anchor="start" font-family='"Liberation Serif", serif' font-weight="bold" fill="#161616" transform="rotate(-90 802.33 1242.38)">PCAF expression (NIV)</text>
<path d="M964 959.3 L964 941.1 L1133.9 941.1 L1133.9 959.3" stroke="#161616" stroke-width="4.8" stroke-linecap="round" stroke-linejoin="miter" fill="none"/>
<text x="1037.37" y="930.79" font-size="29" font-family='"Liberation Sans", sans-serif' font-weight="bold" fill="#161616">*</text>
<text x="1050.67" y="930.79" font-size="29" font-family='"Liberation Sans", sans-serif' font-weight="bold" fill="#161616">*</text>
<text x="864.44" y="868.22" font-size="41" text-anchor="end" font-family='"Liberation Serif", serif' font-weight="bold" fill="#161616">10</text>
<text x="864.34" y="946.62" font-size="41" text-anchor="end" font-family='"Liberation Serif", serif' font-weight="bold" fill="#161616">9</text>
<text x="864.23" y="1025.12" font-size="41" text-anchor="end" font-family='"Liberation Serif", serif' font-weight="bold" fill="#161616">8</text>
<text x="863.93" y="1103.57" font-size="41" text-anchor="end" font-family='"Liberation Serif", serif' font-weight="bold" fill="#161616">7</text>
<text x="864.13" y="1181.97" font-size="41" text-anchor="end" font-family='"Liberation Serif", serif' font-weight="bold" fill="#161616">6</text>
<text x="864.44" y="1260.26" font-size="41" text-anchor="end" font-family='"Liberation Serif", serif' font-weight="bold" fill="#161616">5</text>
<text x="972.5" y="1289" font-size="40.5" text-anchor="end" font-family='"Liberation Serif", serif' font-weight="bold" fill="#161616" transform="rotate(-45 972.5 1289)">IM</text>
<text x="1142.6" y="1289" font-size="40.5" text-anchor="end" font-family='"Liberation Serif", serif' font-weight="bold" fill="#161616" transform="rotate(-45 1142.6 1289)">Tumour-I</text>
<line x1="962.9" y1="981.7" x2="1132.9" y2="994.1" stroke="#161616" stroke-width="4.7" stroke-linecap="butt"/>
<line x1="962.9" y1="1001" x2="1132.9" y2="1015.3" stroke="#161616" stroke-width="4.7" stroke-linecap="butt"/>
<line x1="962.9" y1="997" x2="1132.9" y2="1063.5" stroke="#161616" stroke-width="4.7" stroke-linecap="butt"/>
<line x1="962.9" y1="1003" x2="1132.9" y2="1084.7" stroke="#161616" stroke-width="4.7" stroke-linecap="butt"/>
<line x1="962.9" y1="1020.4" x2="1132.9" y2="1089" stroke="#161616" stroke-width="4.7" stroke-linecap="butt"/>
<line x1="962.9" y1="1006" x2="1132.9" y2="1125" stroke="#161616" stroke-width="4.7" stroke-linecap="butt"/>
<line x1="962.9" y1="1008" x2="1132.9" y2="1128" stroke="#161616" stroke-width="4.7" stroke-linecap="butt"/>
<line x1="962.9" y1="1027.7" x2="1132.9" y2="1127" stroke="#161616" stroke-width="4.7" stroke-linecap="butt"/>
<line x1="962.9" y1="1081" x2="1132.9" y2="1184" stroke="#161616" stroke-width="4.7" stroke-linecap="butt"/>
<circle cx="962.9" cy="981.7" r="5.2" fill="#161616"/>
<circle cx="1132.9" cy="994.1" r="5.2" fill="#161616"/>
<circle cx="962.9" cy="1001" r="5.2" fill="#161616"/>
<circle cx="1132.9" cy="1015.3" r="5.2" fill="#161616"/>
<circle cx="962.9" cy="997" r="5.2" fill="#161616"/>
<circle cx="1132.9" cy="1063.5" r="5.2" fill="#161616"/>
<circle cx="962.9" cy="1003" r="5.2" fill="#161616"/>
<circle cx="1132.9" cy="1084.7" r="5.2" fill="#161616"/>
<circle cx="962.9" cy="1020.4" r="5.2" fill="#161616"/>
<circle cx="1132.9" cy="1089" r="5.2" fill="#161616"/>
<circle cx="962.9" cy="1006" r="5.2" fill="#161616"/>
<circle cx="1132.9" cy="1125" r="5.2" fill="#161616"/>
<circle cx="962.9" cy="1008" r="5.2" fill="#161616"/>
<circle cx="1132.9" cy="1128" r="5.2" fill="#161616"/>
<circle cx="962.9" cy="1027.7" r="5.2" fill="#161616"/>
<circle cx="1132.9" cy="1127" r="5.2" fill="#161616"/>
<circle cx="962.9" cy="1081" r="5.2" fill="#161616"/>
<circle cx="1132.9" cy="1184" r="5.2" fill="#161616"/>
<text x="1.68" y="1489.94" font-size="47" text-anchor="start" font-family='"Liberation Serif", serif' font-weight="bold" fill="#161616">E.</text>
<line x1="131.8" y1="1584.8" x2="131.8" y2="2070.9" stroke="#161616" stroke-width="7" stroke-linecap="butt"/>
<line x1="118.5" y1="1588.3" x2="131.8" y2="1588.3" stroke="#161616" stroke-width="7" stroke-linecap="butt"/>
<line x1="118.5" y1="1708.1" x2="131.8" y2="1708.1" stroke="#161616" stroke-width="7" stroke-linecap="butt"/>
<line x1="118.5" y1="1827.9" x2="131.8" y2="1827.9" stroke="#161616" stroke-width="7" stroke-linecap="butt"/>
<line x1="118.5" y1="1947.7" x2="131.8" y2="1947.7" stroke="#161616" stroke-width="7" stroke-linecap="butt"/>
<line x1="118.5" y1="2067.5" x2="131.8" y2="2067.5" stroke="#161616" stroke-width="7" stroke-linecap="butt"/>
<line x1="128.3" y1="2067.4" x2="613.4" y2="2067.4" stroke="#161616" stroke-width="7" stroke-linecap="butt"/>
<line x1="191.6" y1="2067.4" x2="191.6" y2="2081" stroke="#161616" stroke-width="7" stroke-linecap="butt"/>
<line x1="312.4" y1="2067.4" x2="312.4" y2="2081" stroke="#161616" stroke-width="7" stroke-linecap="butt"/>
<line x1="433.1" y1="2067.4" x2="433.1" y2="2081" stroke="#161616" stroke-width="7" stroke-linecap="butt"/>
<line x1="553.8" y1="2067.4" x2="553.8" y2="2081" stroke="#161616" stroke-width="7" stroke-linecap="butt"/>
<text x="31.14" y="2015.49" font-size="38.85" text-anchor="start" font-family='"Liberation Serif", serif' font-weight="bold" fill="#161616" transform="rotate(-90 31.14 2015.49)">ADA3 expression (NIV)</text>
<text x="119.02" y="1601.15" font-size="40.5" text-anchor="end" font-family='"Liberation Serif", serif' font-weight="bold" fill="#161616">5.0</text>
<text x="119.02" y="1720.8" font-size="40.5" text-anchor="end" font-family='"Liberation Serif", serif' font-weight="bold" fill="#161616">4.5</text>
<text x="119.02" y="1840.75" font-size="40.5" text-anchor="end" font-family='"Liberation Serif", serif' font-weight="bold" fill="#161616">4.0</text>
<text x="119.02" y="1960.5" font-size="40.5" text-anchor="end" font-family='"Liberation Serif", serif' font-weight="bold" fill="#161616">3.5</text>
<text x="119.02" y="2080.35" font-size="40.5" text-anchor="end" font-family='"Liberation Serif", serif' font-weight="bold" fill="#161616">3.0</text>
<text x="201.1" y="2104.2" font-size="40.3" text-anchor="end" font-family='"Liberation Serif", serif' font-weight="bold" fill="#161616" transform="rotate(-45 201.1 2104.2)">CG</text>
<text x="321.9" y="2104.2" font-size="40.3" text-anchor="end" font-family='"Liberation Serif", serif' font-weight="bold" fill="#161616" transform="rotate(-45 321.9 2104.2)">IM</text>
<text x="442.6" y="2104.2" font-size="40.3" text-anchor="end" font-family='"Liberation Serif", serif' font-weight="bold" fill="#161616" transform="rotate(-45 442.6 2104.2)">Tumour-I</text>
<text x="563.3" y="2104.2" font-size="40.3" text-anchor="end" font-family='"Liberation Serif", serif' font-weight="bold" fill="#161616" transform="rotate(-45 563.3 2104.2)">Tumour-D</text>
<line x1="192.1" y1="1665.4" x2="192.1" y2="1774.4" stroke="#161616" stroke-width="4.8" stroke-linecap="butt"/>
<line x1="192.1" y1="1843.8" x2="192.1" y2="1866" stroke="#161616" stroke-width="4.8" stroke-linecap="butt"/>
<line x1="173" y1="1665.4" x2="211.2" y2="1665.4" stroke="#161616" stroke-width="4.8" stroke-linecap="round"/>
<line x1="173" y1="1866" x2="211.2" y2="1866" stroke="#161616" stroke-width="4.8" stroke-linecap="round"/>
<rect x="151.5" y="1774.4" width="80.2" height="69.4" stroke="#161616" stroke-width="4.8" fill="#fff" stroke-linejoin="round"/>
<line x1="151.5" y1="1804.6" x2="231.7" y2="1804.6" stroke="#161616" stroke-width="4.8" stroke-linecap="butt"/>
<line x1="312.6" y1="1709.3" x2="312.6" y2="1763.6" stroke="#161616" stroke-width="4.8" stroke-linecap="butt"/>
<line x1="312.6" y1="1837.8" x2="312.6" y2="1864.8" stroke="#161616" stroke-width="4.8" stroke-linecap="butt"/>
<line x1="293.4" y1="1709.3" x2="331.8" y2="1709.3" stroke="#161616" stroke-width="4.8" stroke-linecap="round"/>
<line x1="293.4" y1="1864.8" x2="331.8" y2="1864.8" stroke="#161616" stroke-width="4.8" stroke-linecap="round"/>
<rect x="272" y="1763.6" width="80.9" height="74.2" stroke="#161616" stroke-width="4.8" fill="#fff" stroke-linejoin="round"/>
<line x1="272" y1="1793.8" x2="352.9" y2="1793.8" stroke="#161616" stroke-width="4.8" stroke-linecap="butt"/>
<line x1="433.1" y1="1747" x2="433.1" y2="1808.5" stroke="#161616" stroke-width="4.8" stroke-linecap="butt"/>
<line x1="433.1" y1="1864" x2="433.1" y2="1952.5" stroke="#161616" stroke-width="4.8" stroke-linecap="butt"/>
<line x1="414" y1="1747" x2="452.2" y2="1747" stroke="#161616" stroke-width="4.8" stroke-linecap="round"/>
<line x1="414" y1="1952.5" x2="452.2" y2="1952.5" stroke="#161616" stroke-width="4.8" stroke-linecap="round"/>
<rect x="392.4" y="1808.5" width="80.9" height="55.5" stroke="#161616" stroke-width="4.8" fill="#fff" stroke-linejoin="round"/>
<line x1="392.4" y1="1835" x2="473.3" y2="1835" stroke="#161616" stroke-width="4.8" stroke-linecap="butt"/>
<line x1="553.5" y1="1721.1" x2="553.5" y2="1812.1" stroke="#161616" stroke-width="4.8" stroke-linecap="butt"/>
<line x1="553.5" y1="1880.4" x2="553.5" y2="1956.3" stroke="#161616" stroke-width="4.8" stroke-linecap="butt"/>
<line x1="534.4" y1="1721.1" x2="572.6" y2="1721.1" stroke="#161616" stroke-width="4.8" stroke-linecap="round"/>
<line x1="534.4" y1="1956.3" x2="572.6" y2="1956.3" stroke="#161616" stroke-width="4.8" stroke-linecap="round"/>
<rect x="512.9" y="1812.1" width="80.9" height="68.3" stroke="#161616" stroke-width="4.8" fill="#fff" stroke-linejoin="round"/>
<line x1="512.9" y1="1833.1" x2="593.8" y2="1833.1" stroke="#161616" stroke-width="4.8" stroke-linecap="butt"/>
<path d="M202.9 1545 L202.9 1536 L548.1 1536 L548.1 1598.9" stroke="#161616" stroke-width="4.6" stroke-linecap="round" stroke-linejoin="miter" fill="none"/>
<path d="M198.3 1591.7 L198.3 1565.8 L433.8 1565.8 L433.8 1591.7" stroke="#161616" stroke-width="4.6" stroke-linecap="round" stroke-linejoin="miter" fill="none"/>
<path d="M319.8 1652.8 L319.8 1645.3 L548.8 1645.3 L548.8 1685.2" stroke="#161616" stroke-width="4.6" stroke-linecap="round" stroke-linejoin="miter" fill="none"/>
<path d="M319 1690.6 L319 1679.8 L439.2 1679.8 L439.2 1705" stroke="#161616" stroke-width="4.6" stroke-linecap="round" stroke-linejoin="miter" fill="none"/>
<path d="M376.05 1517.2 L377.35 1512.9 L377.29 1512.45 L377.12 1512.03 L376.84 1511.66 L376.48 1511.38 L376.05 1511.21 L375.6 1511.15 L375.15 1511.21 L374.73 1511.38 L374.36 1511.66 L374.08 1512.03 L373.91 1512.45 L373.85 1512.9 L375.15 1517.2ZM375.72 1516.77 L371.8 1514.37 L371.35 1514.31 L370.9 1514.37 L370.47 1514.55 L370.11 1514.82 L369.83 1515.19 L369.66 1515.61 L369.6 1516.06 L369.66 1516.51 L369.83 1516.94 L370.11 1517.3 L370.47 1517.58 L370.9 1517.75 L375.48 1517.63ZM375.72 1517.63 L380.3 1517.75 L380.73 1517.58 L381.09 1517.3 L381.37 1516.94 L381.54 1516.51 L381.6 1516.06 L381.54 1515.61 L381.37 1515.19 L381.09 1514.82 L380.73 1514.55 L380.3 1514.37 L379.85 1514.31 L379.4 1514.37 L375.48 1516.77ZM375.23 1516.94 L371.36 1520.21 L371.15 1520.62 L371.05 1521.06 L371.07 1521.52 L371.2 1521.95 L371.45 1522.34 L371.79 1522.65 L372.19 1522.86 L372.64 1522.96 L373.09 1522.94 L373.53 1522.8 L373.91 1522.55 L374.22 1522.22 L375.97 1517.46ZM375.23 1517.46 L376.98 1522.22 L377.29 1522.55 L377.67 1522.8 L378.11 1522.94 L378.56 1522.96 L379.01 1522.86 L379.41 1522.65 L379.75 1522.34 L380 1521.95 L380.13 1521.52 L380.15 1521.06 L380.05 1520.62 L379.84 1520.21 L375.97 1516.94Z" fill="#161616"/>
<path d="M323.85 1551.8 L325.15 1547.5 L325.09 1547.05 L324.92 1546.62 L324.64 1546.26 L324.27 1545.98 L323.85 1545.81 L323.4 1545.75 L322.95 1545.81 L322.52 1545.98 L322.16 1546.26 L321.88 1546.62 L321.71 1547.05 L321.65 1547.5 L322.95 1551.8ZM323.52 1551.37 L319.6 1548.97 L319.15 1548.91 L318.7 1548.97 L318.27 1549.15 L317.91 1549.42 L317.63 1549.79 L317.46 1550.21 L317.4 1550.66 L317.46 1551.11 L317.63 1551.54 L317.91 1551.9 L318.27 1552.18 L318.7 1552.35 L323.28 1552.23ZM323.52 1552.23 L328.1 1552.35 L328.53 1552.18 L328.89 1551.9 L329.17 1551.54 L329.34 1551.11 L329.4 1550.66 L329.34 1550.21 L329.17 1549.79 L328.89 1549.42 L328.53 1549.15 L328.1 1548.97 L327.65 1548.91 L327.2 1548.97 L323.28 1551.37ZM323.03 1551.54 L319.16 1554.81 L318.95 1555.22 L318.85 1555.66 L318.87 1556.12 L319 1556.55 L319.25 1556.94 L319.59 1557.25 L319.99 1557.46 L320.44 1557.56 L320.89 1557.54 L321.33 1557.4 L321.71 1557.15 L322.02 1556.82 L323.77 1552.06ZM323.03 1552.06 L324.78 1556.82 L325.09 1557.15 L325.47 1557.4 L325.91 1557.54 L326.36 1557.56 L326.81 1557.46 L327.21 1557.25 L327.55 1556.94 L327.8 1556.55 L327.93 1556.12 L327.95 1555.66 L327.85 1555.22 L327.64 1554.81 L323.77 1551.54Z" fill="#161616"/>
<path d="M427.05 1628 L428.35 1623.7 L428.29 1623.25 L428.12 1622.83 L427.84 1622.46 L427.48 1622.18 L427.05 1622.01 L426.6 1621.95 L426.15 1622.01 L425.73 1622.18 L425.36 1622.46 L425.08 1622.83 L424.91 1623.25 L424.85 1623.7 L426.15 1628ZM426.72 1627.57 L422.8 1625.17 L422.35 1625.11 L421.9 1625.17 L421.47 1625.35 L421.11 1625.62 L420.83 1625.99 L420.66 1626.41 L420.6 1626.86 L420.66 1627.31 L420.83 1627.74 L421.11 1628.1 L421.47 1628.38 L421.9 1628.55 L426.48 1628.43ZM426.72 1628.43 L431.3 1628.55 L431.73 1628.38 L432.09 1628.1 L432.37 1627.74 L432.54 1627.31 L432.6 1626.86 L432.54 1626.41 L432.37 1625.99 L432.09 1625.62 L431.73 1625.35 L431.3 1625.17 L430.85 1625.11 L430.4 1625.17 L426.48 1627.57ZM426.23 1627.74 L422.36 1631.01 L422.15 1631.42 L422.05 1631.86 L422.07 1632.32 L422.2 1632.75 L422.45 1633.14 L422.79 1633.45 L423.19 1633.66 L423.64 1633.76 L424.09 1633.74 L424.53 1633.6 L424.91 1633.35 L425.22 1633.02 L426.97 1628.26ZM426.23 1628.26 L427.98 1633.02 L428.29 1633.35 L428.67 1633.6 L429.11 1633.74 L429.56 1633.76 L430.01 1633.66 L430.41 1633.45 L430.75 1633.14 L431 1632.75 L431.13 1632.32 L431.15 1631.86 L431.05 1631.42 L430.84 1631.01 L426.97 1627.74Z" fill="#161616"/>
<path d="M383.85 1664.2 L385.15 1659.9 L385.09 1659.45 L384.92 1659.03 L384.64 1658.66 L384.27 1658.38 L383.85 1658.21 L383.4 1658.15 L382.95 1658.21 L382.52 1658.38 L382.16 1658.66 L381.88 1659.03 L381.71 1659.45 L381.65 1659.9 L382.95 1664.2ZM383.52 1663.77 L379.6 1661.37 L379.15 1661.31 L378.7 1661.37 L378.27 1661.55 L377.91 1661.82 L377.63 1662.19 L377.46 1662.61 L377.4 1663.06 L377.46 1663.51 L377.63 1663.94 L377.91 1664.3 L378.27 1664.58 L378.7 1664.75 L383.28 1664.63ZM383.52 1664.63 L388.1 1664.75 L388.53 1664.58 L388.89 1664.3 L389.17 1663.94 L389.34 1663.51 L389.4 1663.06 L389.34 1662.61 L389.17 1662.19 L388.89 1661.82 L388.53 1661.55 L388.1 1661.37 L387.65 1661.31 L387.2 1661.37 L383.28 1663.77ZM383.03 1663.94 L379.16 1667.21 L378.95 1667.62 L378.85 1668.06 L378.87 1668.52 L379 1668.95 L379.25 1669.34 L379.59 1669.65 L379.99 1669.86 L380.44 1669.96 L380.89 1669.94 L381.33 1669.8 L381.71 1669.55 L382.02 1669.22 L383.77 1664.46ZM383.03 1664.46 L384.78 1669.22 L385.09 1669.55 L385.47 1669.8 L385.91 1669.94 L386.36 1669.96 L386.81 1669.86 L387.21 1669.65 L387.55 1669.34 L387.8 1668.95 L387.93 1668.52 L387.95 1668.06 L387.85 1667.62 L387.64 1667.21 L383.77 1663.94Z" fill="#161616"/>
<text x="686.08" y="1489.94" font-size="47" text-anchor="start" font-family='"Liberation Serif", serif' font-weight="bold" fill="#161616">F.</text>
<line x1="868.9" y1="1546.7" x2="868.9" y2="1990.3" stroke="#161616" stroke-width="4.6" stroke-linecap="butt"/>
<line x1="858" y1="1549" x2="868.9" y2="1549" stroke="#161616" stroke-width="4.6" stroke-linecap="butt"/>
<line x1="858" y1="1695.3" x2="868.9" y2="1695.3" stroke="#161616" stroke-width="4.6" stroke-linecap="butt"/>
<line x1="858" y1="1841.6" x2="868.9" y2="1841.6" stroke="#161616" stroke-width="4.6" stroke-linecap="butt"/>
<line x1="858" y1="1987.9" x2="868.9" y2="1987.9" stroke="#161616" stroke-width="4.6" stroke-linecap="butt"/>
<line x1="867" y1="1988" x2="1306" y2="1988" stroke="#161616" stroke-width="4.6" stroke-linecap="butt"/>
<line x1="941.5" y1="1988" x2="941.5" y2="1999.5" stroke="#161616" stroke-width="4.6" stroke-linecap="butt"/>
<line x1="1086.9" y1="1988" x2="1086.9" y2="1999.5" stroke="#161616" stroke-width="4.6" stroke-linecap="butt"/>
<line x1="1232.2" y1="1988" x2="1232.2" y2="1999.5" stroke="#161616" stroke-width="4.6" stroke-linecap="butt"/>
<text x="762.66" y="1964.49" font-size="39.74" text-anchor="start" font-family='"Liberation Serif", serif' font-weight="bold" fill="#161616" transform="rotate(-90 762.66 1964.49)">PACS1 expression (NIV)</text>
<text x="856.02" y="1562.15" font-size="40.5" text-anchor="end" font-family='"Liberation Serif", serif' font-weight="bold" fill="#161616">5.0</text>
<text x="856.02" y="1708.3" font-size="40.5" text-anchor="end" font-family='"Liberation Serif", serif' font-weight="bold" fill="#161616">4.5</text>
<text x="856.02" y="1854.75" font-size="40.5" text-anchor="end" font-family='"Liberation Serif", serif' font-weight="bold" fill="#161616">4.0</text>
<text x="856.02" y="2001" font-size="40.5" text-anchor="end" font-family='"Liberation Serif", serif' font-weight="bold" fill="#161616">3.5</text>
<text x="951.3" y="2030.1" font-size="41.5" text-anchor="end" font-family='"Liberation Serif", serif' font-weight="bold" fill="#161616" transform="rotate(-45 951.3 2030.1)">IM</text>
<text x="1096.7" y="2030.1" font-size="41.5" text-anchor="end" font-family='"Liberation Serif", serif' font-weight="bold" fill="#161616" transform="rotate(-45 1096.7 2030.1)">Tumour - I</text>
<text x="1242" y="2030.1" font-size="41.5" text-anchor="end" font-family='"Liberation Serif", serif' font-weight="bold" fill="#161616" transform="rotate(-45 1242 2030.1)">Tumour - D</text>
<line x1="941.4" y1="1635.4" x2="941.4" y2="1662.7" stroke="#161616" stroke-width="4.6" stroke-linecap="butt"/>
<line x1="941.4" y1="1733.2" x2="941.4" y2="1749.3" stroke="#161616" stroke-width="4.6" stroke-linecap="butt"/>
<line x1="918.2" y1="1635.4" x2="964.6" y2="1635.4" stroke="#161616" stroke-width="4.6" stroke-linecap="round"/>
<line x1="918.2" y1="1749.3" x2="964.6" y2="1749.3" stroke="#161616" stroke-width="4.6" stroke-linecap="round"/>
<rect x="892.8" y="1662.7" width="96.9" height="70.5" stroke="#161616" stroke-width="4.6" fill="#fff" stroke-linejoin="round"/>
<line x1="892.8" y1="1712.5" x2="989.7" y2="1712.5" stroke="#161616" stroke-width="4.6" stroke-linecap="butt"/>
<line x1="1086.9" y1="1643.5" x2="1086.9" y2="1697.3" stroke="#161616" stroke-width="4.6" stroke-linecap="butt"/>
<line x1="1086.9" y1="1769.9" x2="1086.9" y2="1851.3" stroke="#161616" stroke-width="4.6" stroke-linecap="butt"/>
<line x1="1064" y1="1643.5" x2="1109.8" y2="1643.5" stroke="#161616" stroke-width="4.6" stroke-linecap="round"/>
<line x1="1064" y1="1851.3" x2="1109.8" y2="1851.3" stroke="#161616" stroke-width="4.6" stroke-linecap="round"/>
<rect x="1038.9" y="1697.3" width="97" height="72.6" stroke="#161616" stroke-width="4.6" fill="#fff" stroke-linejoin="round"/>
<line x1="1038.9" y1="1730.7" x2="1135.9" y2="1730.7" stroke="#161616" stroke-width="4.6" stroke-linecap="butt"/>
<line x1="1232.2" y1="1646.4" x2="1232.2" y2="1695.5" stroke="#161616" stroke-width="4.6" stroke-linecap="butt"/>
<line x1="1232.2" y1="1770.7" x2="1232.2" y2="1831.7" stroke="#161616" stroke-width="4.6" stroke-linecap="butt"/>
<line x1="1209.4" y1="1646.4" x2="1255" y2="1646.4" stroke="#161616" stroke-width="4.6" stroke-linecap="round"/>
<line x1="1209.4" y1="1831.7" x2="1255" y2="1831.7" stroke="#161616" stroke-width="4.6" stroke-linecap="round"/>
<rect x="1184.2" y="1695.5" width="97.4" height="75.2" stroke="#161616" stroke-width="4.6" fill="#fff" stroke-linejoin="round"/>
<line x1="1184.2" y1="1726.3" x2="1281.6" y2="1726.3" stroke="#161616" stroke-width="4.6" stroke-linecap="butt"/>
<path d="M937.2 1611.7 L937.2 1593 L1091.6 1593 L1091.6 1611.7" stroke="#161616" stroke-width="4.6" stroke-linecap="round" stroke-linejoin="miter" fill="none"/>
<text x="1009.08" y="1575.79" font-size="30" font-family='"Liberation Sans", sans-serif' font-weight="bold" fill="#161616">*</text>
</svg>
</body></html>
